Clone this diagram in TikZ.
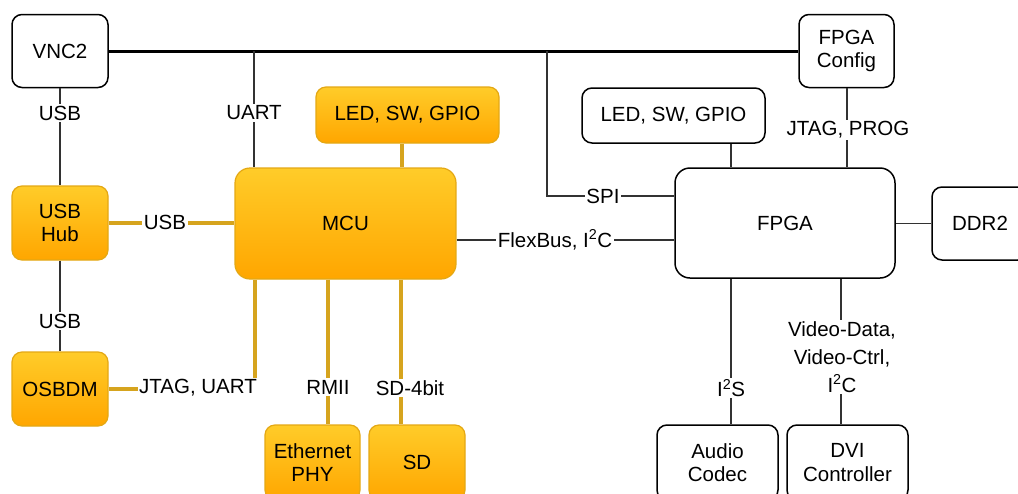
\documentclass[tikz,border=0pt]{standalone}
\usepackage{fontspec}
\setmainfont{Liberation Sans}
\definecolor{otop}{RGB}{255,204,41}
\definecolor{obot}{RGB}{255,166,0}
\definecolor{obd}{RGB}{228,168,20}
\definecolor{oline}{RGB}{214,164,30}
\definecolor{lc}{RGB}{50,50,50}
\begin{document}
\begin{tikzpicture}[x=1pt,y=-1pt,
  every node/.style={font=\fontsize{20.5}{23.5}\selectfont, align=center},
  wbox/.style={draw=black, line width=1.5pt, rounded corners=10pt, fill=white, inner sep=0pt},
  obox/.style={draw=obd, line width=1.2pt, rounded corners=10pt, top color=otop, bottom color=obot, inner sep=0pt},
  bl/.style={draw=lc, line width=1.8pt},
  ol/.style={draw=oline, line width=3.2pt},
  bus/.style={draw=black, line width=3pt},
  lbl/.style={fill=white, inner sep=1.5pt}]
\useasboundingbox (0,0) rectangle (1018,493);
\clip (0,0) rectangle (1018,493);

% boxes
\node[wbox, minimum width=96pt, minimum height=73pt] (vnc) at (60,51) {VNC2};
\node[obox, minimum width=96pt, minimum height=74pt] (hub) at (60,223) {USB\\Hub};
\node[obox, minimum width=96pt, minimum height=74pt] (osbdm) at (60,389) {OSBDM};
\node[obox, minimum width=221pt, minimum height=111pt, rounded corners=15pt] (mcu) at (345.5,223.5) {MCU};
\node[obox, minimum width=183pt, minimum height=56pt] (ledL) at (407.5,115) {LED, SW, GPIO};
\node[obox, minimum width=95pt, minimum height=75pt] (eth) at (312.5,462.5) {Ethernet\\PHY};
\node[obox, minimum width=96pt, minimum height=75pt] (sd) at (417,462.5) {SD};
\node[wbox, minimum width=220pt, minimum height=110pt, rounded corners=15pt] (fpga) at (785,223) {FPGA};
\node[wbox, minimum width=96pt, minimum height=73pt] (ddr) at (980,223.5) {DDR2};
\node[wbox, minimum width=95pt, minimum height=73pt] (fcfg) at (846.5,51) {FPGA\\Config};
\node[wbox, minimum width=183pt, minimum height=55pt] (ledR) at (673.5,115.5) {LED, SW, GPIO};
\node[wbox, minimum width=121pt, minimum height=75pt] (audio) at (717.5,462.5) {Audio\\Codec};
\node[wbox, minimum width=121pt, minimum height=75pt] (dvi) at (847.5,462.5) {DVI\\Controller};

% helper coordinates
\coordinate (uartTop) at (254,51);
\coordinate (spiTop) at (547,51);
\coordinate (spiY) at (0,196);
\coordinate (flexY) at (0,240);
\coordinate (xj) at (255,0);
\coordinate (xrmii) at (328,0);
\coordinate (xsd) at (401,0);
\coordinate (xledL) at (402,0);
\coordinate (xledR) at (731,0);
\coordinate (xprog) at (847,0);
\coordinate (xvid) at (841,0);

% connectors
\draw[bus] (vnc.east) -- (fcfg.west);
\draw[bl] (uartTop) -- (uartTop |- mcu.north);
\draw[bl] (spiTop) |- (fpga.west |- spiY);
\draw[bl] (mcu.east |- flexY) -- (fpga.west |- flexY);
\draw[bl] (vnc.south) -- (hub.north);
\draw[bl] (hub.south) -- (osbdm.north);
\draw[ol] (hub.east) -- (mcu.west |- hub.east);
\draw[ol] (osbdm.east) -| (xj |- mcu.south);
\draw[ol] (ledL.south -| xledL) -- (mcu.north -| xledL);
\draw[ol] (mcu.south -| xrmii) -- (eth.north -| xrmii);
\draw[ol] (mcu.south -| xsd) -- (sd.north -| xsd);
\draw[bl] (ledR.south -| xledR) -- (fpga.north -| xledR);
\draw[bl] (fcfg.south -| xprog) -- (fpga.north -| xprog);
\draw[bl] (fpga.east |- ddr.west) -- (ddr.west);
\draw[bl] (fpga.south -| xledR) -- (audio.north -| xledR);
\draw[bl] (fpga.south -| xvid) -- (dvi.north -| xvid);

% labels
\node[lbl] (lUsb1) at (60,113) {USB};
\node[lbl] (lUart) at (254,113) {UART};
\node[lbl] (lUsb2) at (165,222) {USB};
\node[lbl] (lUsb3) at (60,321) {USB};
\node[lbl] (lJtag) at (198,388) {JTAG, UART};
\node[lbl] (lRmii) at (328,387) {RMII};
\node[lbl] (lSd) at (410,388) {SD-4bit};
\node[lbl] (lSpi) at (603,196) {SPI};
\node[lbl] (lFlex) at (555,240) {FlexBus, I\textsuperscript{2}C};
\node[lbl] (lProg) at (848,130) {JTAG, PROG};
\node[lbl] (lI2s) at (731,388) {I\textsuperscript{2}S};
\node[lbl, font=\fontsize{20.5}{28}\selectfont] (lVid) at (842,357) {Video-Data,\\Video-Ctrl,\\I\textsuperscript{2}C};
\end{tikzpicture}
\end{document}
